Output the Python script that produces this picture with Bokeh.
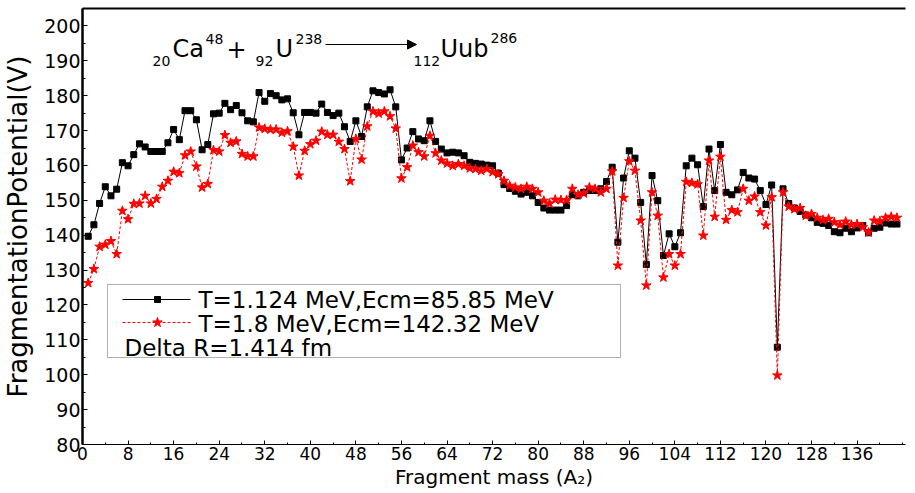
from bokeh.plotting import figure
from bokeh.models import (LinearAxis, FixedTicker, Range1d, Label, BoxAnnotation,
                          Arrow, NormalHead)
from bokeh.embed import file_html
from bokeh.resources import INLINE

# ---------------- data ----------------
mass = list(range(1, 144))

pot_T1124 = [
    139.7, 143.0, 149.1, 153.9, 151.3, 153.2, 160.8, 159.9, 163.1, 166.2,
    165.3, 164.0, 164.0, 164.0, 166.5, 170.3, 167.4, 175.7, 175.7, 173.1,
    164.5, 166.0, 174.8, 175.0, 177.8, 176.0, 177.2, 175.1, 172.8, 172.5,
    180.9, 178.4, 180.6, 180.0, 178.8, 179.1, 175.1, 168.8, 175.2, 175.2,
    175.0, 177.6, 175.2, 174.3, 175.0, 171.1, 166.9, 172.8, 168.3, 176.8,
    181.4, 180.9, 180.5, 181.7, 176.8, 161.6, 165.0, 169.7, 167.6, 167.1,
    172.8, 166.9, 164.7, 163.6, 163.8, 163.6, 162.8, 160.9, 160.6, 160.4,
    160.1, 159.9, 157.8, 154.5, 153.4, 152.6, 151.8, 152.3, 151.3, 149.4,
    147.8, 147.2, 147.2, 147.2, 148.5, 151.6, 151.3, 152.3, 152.8, 152.8,
    153.3, 155.4, 159.5, 138.0, 156.4, 164.2, 162.1, 149.4, 131.6, 157.1,
    149.9, 134.2, 140.4, 136.7, 140.7, 159.9, 162.1, 160.2, 148.2, 164.7,
    152.8, 166.0, 152.3, 151.6, 153.0, 158.0, 156.4, 156.1, 152.8, 148.8,
    154.4, 107.9, 153.3, 149.1, 147.8, 146.8, 145.8, 145.0, 143.7, 143.4,
    142.8, 141.0, 140.7, 142.0, 141.0, 142.1, 142.8, 140.7, 142.0, 142.3,
    143.5, 143.2, 143.2,
]

pot_T18 = [
    126.3, 130.3, 136.7, 137.3, 138.3, 134.6, 147.0, 144.6, 149.0, 149.1,
    151.3, 149.1, 150.4, 153.9, 155.6, 158.2, 157.8, 162.9, 164.0, 159.7,
    153.7, 154.7, 164.4, 164.0, 168.7, 166.5, 166.9, 163.3, 162.6, 162.6,
    170.9, 170.5, 170.3, 170.3, 169.4, 169.8, 165.4, 157.1, 164.2, 166.1,
    167.1, 169.7, 168.8, 168.8, 166.8, 164.7, 155.5, 167.6, 161.7, 171.2,
    175.5, 174.9, 175.5, 174.1, 170.6, 156.3, 159.5, 165.7, 163.8, 162.6,
    168.5, 163.5, 161.4, 160.6, 159.9, 160.4, 159.9, 159.2, 159.0, 158.5,
    159.0, 158.1, 157.5, 155.6, 154.2, 153.7, 153.3, 153.9, 153.3, 152.3,
    149.9, 149.1, 150.2, 150.1, 150.1, 153.3, 151.6, 152.0, 153.7, 153.3,
    152.3, 153.3, 158.3, 131.3, 150.7, 161.2, 158.5, 144.2, 125.6, 152.3,
    145.6, 127.9, 134.6, 131.3, 134.6, 155.3, 155.0, 154.6, 139.9, 161.4,
    145.3, 162.5, 144.4, 147.2, 146.6, 153.3, 149.9, 151.1, 146.6, 142.8,
    150.9, 99.8, 152.3, 148.2, 147.5, 147.8, 145.6, 146.1, 145.0, 144.4,
    144.7, 143.7, 143.0, 143.9, 143.0, 143.2, 142.3, 140.8, 144.2, 144.0,
    145.0, 145.3, 145.0,
]

x_ticks = list(range(0, 137, 8))
y_ticks = list(range(80, 201, 10))

label_T1124 = "T=1.124 MeV,Ecm=85.85 MeV"
label_T18 = "T=1.8 MeV,Ecm=142.32 MeV"
label_dr = "Delta R=1.414 fm"
x_title = "Fragment mass (A\u2082)"
y_title = "FragmentationPotential(V)"

# ---------------- figure ----------------
X_START, X_END = 0, 144.5
Y_START, Y_END = 80, 205
FONT = "DejaVu Sans"

p = figure(width=915, height=493, output_backend="svg", toolbar_location=None,
           x_range=Range1d(X_START, X_END), y_range=Range1d(Y_START, Y_END),
           min_border_left=82, min_border_right=10, min_border_top=8,
           min_border_bottom=49,
           x_axis_label=x_title, y_axis_label=y_title)
p.outline_line_color = None
p.grid.visible = False
p.background_fill_color = "white"
p.border_fill_color = "white"

xa = p.xaxis[0]
ya = p.yaxis[0]
xa.ticker = FixedTicker(ticks=x_ticks, minor_ticks=list(range(0, 145, 4)))
ya.ticker = FixedTicker(ticks=y_ticks, minor_ticks=list(range(80, 206, 5)))
for ax in (xa, ya):
    ax.major_label_text_font = FONT
    ax.major_label_text_color = "black"
    ax.axis_label_text_font = FONT
    ax.axis_label_text_font_style = "normal"
    ax.axis_label_text_color = "black"
    ax.axis_line_color = "black"
    ax.major_tick_line_color = "black"
    ax.minor_tick_line_color = "black"
    ax.major_tick_out = 0
    ax.minor_tick_out = 0

xa.major_label_text_font_size = "17px"
xa.major_label_standoff = 2
xa.axis_label_text_font_size = "20px"
xa.axis_label_standoff = 2
xa.axis_line_width = 1
xa.major_tick_in = 4
xa.minor_tick_in = 2

ya.major_label_text_font_size = "19px"
ya.axis_label_text_font_size = "26px"
ya.major_label_standoff = 2
ya.axis_label_standoff = 8
ya.axis_line_width = 2.5
ya.major_tick_in = 5
ya.minor_tick_in = 3

top = LinearAxis(ticker=FixedTicker(ticks=[]), major_label_text_font_size="0px",
                 axis_line_width=2, axis_line_color="black",
                 major_tick_in=0, major_tick_out=0, minor_tick_in=0,
                 minor_tick_out=0, major_label_standoff=0)
p.add_layout(top, "above")

# ---------------- series ----------------
p.line(mass, pot_T1124, color="black", line_width=1)
p.scatter(mass, pot_T1124, marker="square", size=6, color="black")
p.line(mass, pot_T18, color="red", line_width=1, line_dash="3 2")
p.scatter(mass, pot_T18, marker="star", size=10, color="red")

# ---------------- helpers: page pixel -> data ----------------
FL, FR, FT, FB = 82, 905, 8, 444
def dx(px):
    return X_START + (px - FL) * (X_END - X_START) / (FR - FL)
def dy(py):
    return Y_START + (FB - py) * (Y_END - Y_START) / (FB - FT)

def lab(px, py, text, size, baseline="alphabetic", align="left"):
    p.add_layout(Label(x=dx(px), y=dy(py), text=text, text_font=FONT,
                       text_font_size=size, text_color="black",
                       text_align=align, text_baseline=baseline))

# reaction formula
lab(152, 60, "20", "14px")
lab(172, 48, "Ca", "24px")
lab(205, 38, "48", "14px")
lab(226, 48, "+", "24px")
lab(255, 60, "92", "14px")
lab(275, 48, "U", "24px")
lab(295, 38, "238", "14px")
p.add_layout(Arrow(end=NormalHead(size=9, fill_color="black", line_color="black"),
                   x_start=dx(325), y_start=dy(44), x_end=dx(416), y_end=dy(44),
                   line_width=1, line_color="black"))
lab(413, 60, "112", "14px")
lab(440, 48, "Uub", "24px")
lab(490, 37, "286", "14px")

# ---------------- manual legend ----------------
p.add_layout(BoxAnnotation(left=dx(107), right=dx(620), top=dy(284), bottom=dy(357),
                           fill_color="white", fill_alpha=1.0, line_color="black",
                           line_width=1, level="underlay"))
p.line([dx(122), dx(190)], [dy(299), dy(299)], color="black", line_width=1)
p.scatter([dx(157)], [dy(299)], marker="square", size=6, color="black")
p.line([dx(122), dx(190)], [dy(322), dy(322)], color="red", line_width=1, line_dash="3 2")
p.scatter([dx(157)], [dy(322)], marker="star", size=10, color="red")
lab(198, 299, label_T1124, "23px", "middle")
lab(198, 323, label_T18, "23px", "middle")
lab(124, 347, label_dr, "23px", "middle")

open("out.html", "w").write(file_html(p, INLINE))
